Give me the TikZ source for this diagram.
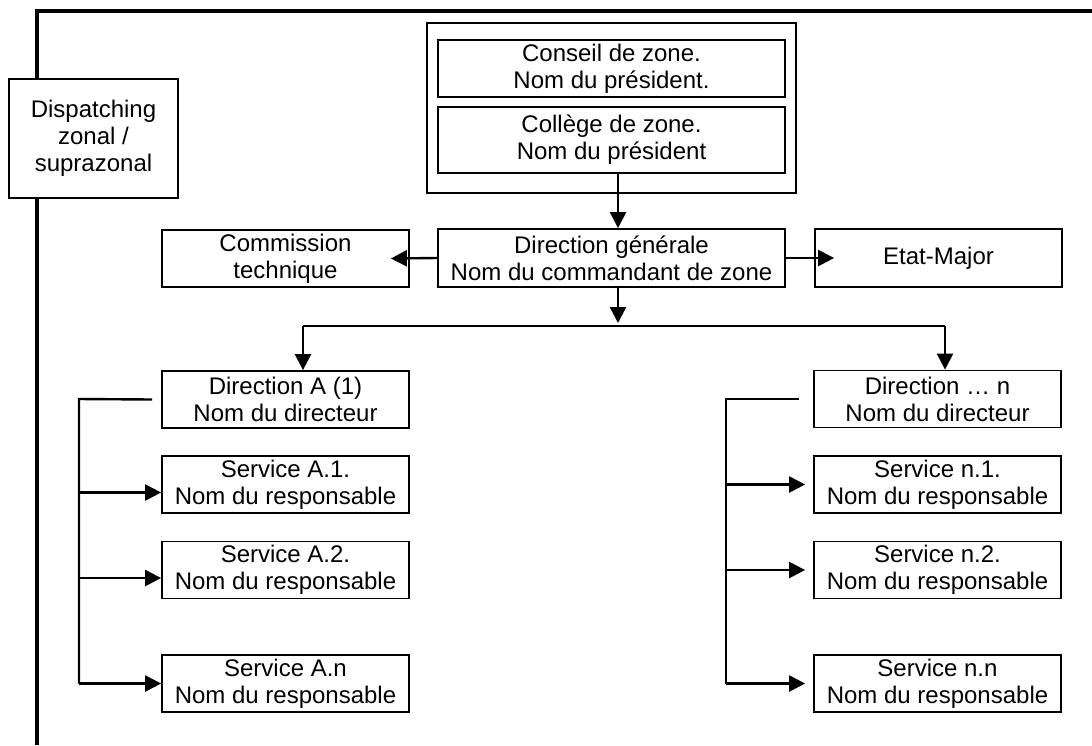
\documentclass[tikz,border=0pt]{standalone}
\usepackage{fontspec}
\setmainfont{Liberation Sans}
\usetikzlibrary{arrows.meta}

\begin{document}
\begin{tikzpicture}[x=0.5pt, y=-0.5pt,
    box/.style={draw, line width=0.9pt, fill=white, inner sep=0pt, align=center,
        minimum width=123.5pt, minimum height=28.5pt,
        font=\fontsize{12}{13.5}\selectfont},
    arr/.style={line width=1.2pt, -{Triangle[length=8pt,width=8pt]}},
    link/.style={line width=1.2pt}]
    \useasboundingbox (0,0) rectangle (1092,745);
    \draw[line width=1.8pt] (37,745) -- (37,11) -- (1092,11);

    \node[box, minimum width=84.5pt, minimum height=59.5pt] (disp) at (93.5,138.5) {Dispatching\\zonal /\\suprazonal};
    \node[box, minimum width=184.5pt, minimum height=85pt] (zone) at (611.5,108) {};
    \node[box, minimum width=173.5pt] (conseil) at (611.5,68.5) {Conseil de zone.\\Nom du président.};
    \node[box, minimum width=173.5pt, minimum height=33pt] (college) at (611.5,140) {Collège de zone.\\Nom du président};
    \node[box, minimum width=173.5pt, minimum height=29pt] (dg) at (611.5,258) {Direction générale\\Nom du commandant de zone};
    \node[box] (comm) at (285.5,258.5) {Commission\\technique};
    \node[box, minimum height=29pt] (em) at (938.5,258) {Etat-Major};
    \node[box] (dirA) at (285.5,399.5) {Direction A (1)\\Nom du directeur};
    \node[box] (dirN) at (937.5,399) {Direction … n\\Nom du directeur};
    \foreach \k/\t/\y in {1/1./484.5, 2/2./570, n/n/683.5} {
        \node[box] (sA\k) at (285.5,\y) {Service A.\t\\Nom du responsable};
        \node[box] (sN\k) at (937.5,\y) {Service n.\t\\Nom du responsable};
    }

    \draw[arr] ([xshift=3.25pt]college.south) -- ([xshift=3.25pt]dg.north);
    \draw[arr] (dg.west) -- ([xshift=-9.5pt]comm.east);
    \draw[arr] (dg.east) -- ([xshift=10pt]em.west);

    \coordinate (split) at (618,326);
    \coordinate (splitA) at (303,326);
    \coordinate (splitN) at (945,326);
    \draw[arr] ([xshift=3.25pt]dg.south) -- ([yshift=1.5pt]split);
    \draw[link] (splitA) -- (splitN);
    \draw[arr] (splitA) -- (splitA |- dirA.north);
    \draw[arr] (splitN) -- (splitN |- dirN.north);

    \coordinate (trunkA) at (79,399);
    \draw[link] ([xshift=-4.5pt]dirA.west) -- (trunkA) -- (trunkA |- sAn.west);
    \foreach \k in {1,2} {
        \coordinate (inA\k) at ([yshift=-4pt]sA\k.west);
        \draw[arr] (trunkA |- inA\k) -- (inA\k);
    }
    \draw[arr] (trunkA |- sAn.west) -- (sAn.west);

    \coordinate (trunkN) at (726,399);
    \draw[link] ([xshift=-7pt]dirN.west) -- (trunkN) -- (trunkN |- sNn.west);
    \foreach \k in {1,2,n} {
        \draw[arr] (trunkN |- sN\k.west) -- ([xshift=-4pt]sN\k.west);
    }
\end{tikzpicture}
\end{document}
